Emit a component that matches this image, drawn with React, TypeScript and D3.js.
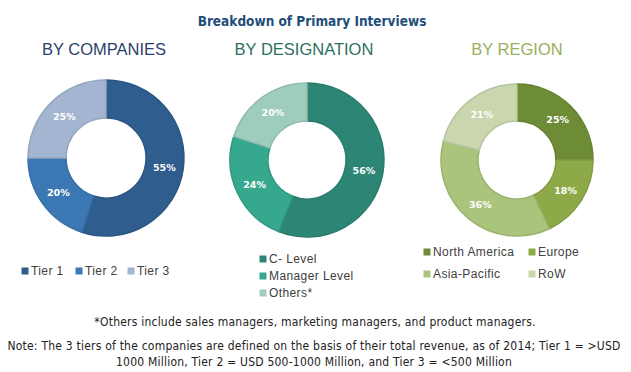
import React from 'react';
import * as d3 from 'd3';

const companyLabels = ['Tier 1', 'Tier 2', 'Tier 3'];
const companyValues = [55, 20, 25];
const companyColors = ['#2f5e8e', '#3b78b4', '#a3b5d0'];

const designationLabels = ['C- Level', 'Manager Level', 'Others*'];
const designationValues = [56, 24, 20];
const designationColors = ['#2d8675', '#35a88e', '#9ecdbd'];

const regionLabels = ['North America', 'Europe', 'Asia-Pacific', 'RoW'];
const regionValues = [25, 18, 36, 21];
const regionColors = ['#6e8c35', '#8eaa48', '#aac47c', '#c9d6ae'];

const title = 'Breakdown of Primary Interviews';
const footnote = '*Others include sales managers, marketing managers, and product managers.';
const noteLines = [
  'Note: The 3 tiers of the companies are defined on the basis of their total revenue, as of 2014; Tier 1 = >USD',
  '1000 Million, Tier 2 = USD 500-1000 Million, and Tier 3 = <500 Million',
];

const condensed = "'DejaVu Sans Condensed', 'DejaVu Sans', sans-serif";
const plain = "'Liberation Sans', Arial, sans-serif";

type DonutProps = {
  values: number[];
  colors: string[];
  cx: number;
  cy: number;
  inner: number;
  outer: number;
};

const Donut: React.FC<DonutProps> = ({ values, colors, cx, cy, inner, outer }) => {
  const pie = d3.pie<number>().sort(null).value((d) => d);
  const arc = d3.arc<d3.PieArcDatum<number>>().innerRadius(inner).outerRadius(outer);
  const arcs = pie(values);
  return (
    <g transform={`translate(${cx},${cy})`}>
      {arcs.map((a, i) => (
        <path
          key={i}
          d={arc(a) || ''}
          fill={colors[i]}
          stroke={d3.color(colors[i])!.darker(0.25).toString()}
          strokeWidth={1.5}
        />
      ))}
      {arcs.map((a, i) => {
        const [x, y] = arc.centroid(a);
        return (
          <text
            key={'t' + i}
            x={x}
            y={y}
            dy="0.35em"
            textAnchor="middle"
            fill="#fff"
            fontFamily="'DejaVu Sans', Verdana, sans-serif"
            fontWeight="bold"
            fontSize={9.5}
          >
            {a.data}%
          </text>
        );
      })}
    </g>
  );
};

type LegendItem = { label: string; color: string; x: number; y: number };

const Legend: React.FC<{ items: LegendItem[] }> = ({ items }) => (
  <g>
    {items.map((d, i) => (
      <g key={i} transform={`translate(${d.x},${d.y})`}>
        <rect x={-3.5} y={-3.5} width={7} height={7} fill={d.color} />
        <text x={6} dy="0.35em" fontFamily={plain} fontSize={12} fill="#404040" letterSpacing={0.4}>
          {d.label}
        </text>
      </g>
    ))}
  </g>
);

const App: React.FC = () => {
  const companyItems = companyLabels.map((l, i) => ({
    label: l,
    color: companyColors[i],
    x: [25, 79, 131][i],
    y: 271,
  }));
  const designationItems = designationLabels.map((l, i) => ({
    label: l,
    color: designationColors[i],
    x: 263,
    y: 259 + i * 17,
  }));
  const regionItems = regionLabels.map((l, i) => ({
    label: l,
    color: regionColors[i],
    x: i % 2 === 0 ? 427 : 532,
    y: i < 2 ? 252 : 274,
  }));

  return (
    <svg
      width={631}
      height={372}
      viewBox="0 0 631 372"
      style={{ position: 'absolute', left: 0, top: 0, background: '#fff' }}
    >
      <text x={312} y={26} textAnchor="middle" fontFamily={condensed} fontWeight="bold" fontSize={13.5} fill="#1f4e79">
        {title}
      </text>
      <text x={104} y={55} textAnchor="middle" fontFamily={plain} fontSize={16.5} fill="#2b3f6b">
        BY COMPANIES
      </text>
      <text x={304} y={55} textAnchor="middle" fontFamily={plain} fontSize={16.5} fill="#2e7060">
        BY DESIGNATION
      </text>
      <text x={517} y={55} textAnchor="middle" fontFamily={plain} fontSize={16.5} fill="#9aaf5a">
        BY REGION
      </text>

      <Donut values={companyValues} colors={companyColors} cx={106} cy={158} inner={40} outer={78} />
      <Donut values={designationValues} colors={designationColors} cx={307} cy={160} inner={39} outer={77} />
      <Donut values={regionValues} colors={regionColors} cx={517} cy={160} inner={39} outer={76} />

      <Legend items={companyItems} />
      <Legend items={designationItems} />
      <Legend items={regionItems} />

      <text x={315} y={326} textAnchor="middle" fontFamily={condensed} fontSize={12} fill="#222" letterSpacing={0.22}>
        {footnote}
      </text>
      {noteLines.map((l, i) => (
        <text key={i} x={314} y={350 + i * 16} textAnchor="middle" fontFamily={condensed} fontSize={12} fill="#222" letterSpacing={0.22}>
          {l}
        </text>
      ))}
    </svg>
  );
};

export default App;
